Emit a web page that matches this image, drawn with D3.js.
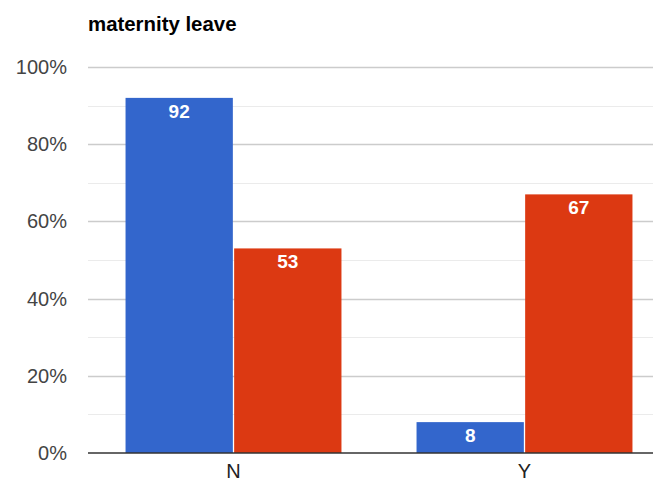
<!DOCTYPE html>
<html>
<head>
<meta charset="utf-8">
<script src="https://cdn.jsdelivr.net/npm/d3@7"></script>
<style>
  html, body { margin: 0; padding: 0; background: #fff; }
  svg { display: block; font-family: Arial, "Liberation Sans", sans-serif; }
</style>
</head>
<body>
<svg id="chart" width="653" height="482"></svg>
<script>
// Survey responses on maternity leave, percent per answer
const categories = ["N", "Y"];
const seriesNames = ["Group A", "Group B"];
const seriesA = [92, 8];
const seriesB = [53, 67];
const yTicks = [0, 20, 40, 60, 80, 100];
const yMinorTicks = [10, 30, 50, 70, 90];
const title = "maternity leave";

const colors = ["#3366cc", "#dc3912"];

const svg = d3.select("#chart");
const margin = { left: 88, top: 67, bottom: 453 };
const plotRight = 670;

const x = d3.scaleBand().domain(categories).range([margin.left, plotRight]).paddingInner(0.258).paddingOuter(0.129);
const xInner = d3.scaleBand().domain(seriesNames).range([0, x.bandwidth()]).paddingInner(0.012);
const y = d3.scaleLinear().domain([0, 100]).range([margin.bottom, margin.top]);

// minor gridlines
svg.append("g").selectAll("line").data(yMinorTicks).join("line")
  .attr("x1", margin.left).attr("x2", plotRight)
  .attr("y1", d => Math.round(y(d)) + 0.5).attr("y2", d => Math.round(y(d)) + 0.5)
  .attr("stroke", "#ebebeb").attr("stroke-width", 1);

// major gridlines
svg.append("g").selectAll("line").data(yTicks.filter(d => d > 0)).join("line")
  .attr("x1", margin.left).attr("x2", plotRight)
  .attr("y1", d => Math.round(y(d)) + 0.5).attr("y2", d => Math.round(y(d)) + 0.5)
  .attr("stroke", "#cccccc").attr("stroke-width", 1.5);

// y-axis labels
const yAxis = d3.axisLeft(y).tickValues(yTicks).tickFormat(d => d + "%").tickSize(0).tickPadding(0);
const yg = svg.append("g").attr("transform", `translate(67,0)`).call(yAxis);
yg.select(".domain").remove();
yg.selectAll("text").attr("fill", "#444").style("font-size", "20px")
  .attr("font-family", "Arial, 'Liberation Sans', sans-serif");

// bars
const rows = categories.map((c, i) => ({ cat: c, vals: [seriesA[i], seriesB[i]] }));
const groups = svg.append("g").selectAll("g").data(rows).join("g")
  .attr("transform", d => `translate(${x(d.cat)},0)`);

groups.selectAll("rect").data(d => d.vals.map((v, j) => ({ v, s: seriesNames[j], j }))).join("rect")
  .attr("x", d => xInner(d.s))
  .attr("y", d => y(d.v))
  .attr("width", xInner.bandwidth())
  .attr("height", d => y(0) - y(d.v))
  .attr("fill", d => colors[d.j]);

groups.selectAll("text").data(d => d.vals.map((v, j) => ({ v, s: seriesNames[j], j }))).join("text")
  .attr("x", d => xInner(d.s) + xInner.bandwidth() / 2)
  .attr("y", d => y(d.v) + 20)
  .attr("text-anchor", "middle")
  .attr("fill", "#fff")
  .style("font-size", "19px")
  .style("font-weight", "bold")
  .text(d => d.v);

// baseline
svg.append("line")
  .attr("x1", margin.left).attr("x2", plotRight)
  .attr("y1", y(0)).attr("y2", y(0))
  .attr("stroke", "#333").attr("stroke-width", 1.5);

// x-axis labels
const xAxis = d3.axisBottom(x).tickSize(0).tickPadding(0);
const xg = svg.append("g").attr("transform", `translate(0,${y(0) + 11})`).call(xAxis);
xg.select(".domain").remove();
xg.selectAll("text").attr("fill", "#222").style("font-size", "20px")
  .attr("font-family", "Arial, 'Liberation Sans', sans-serif");

// title
svg.append("text")
  .attr("x", 88).attr("y", 31)
  .attr("fill", "#000")
  .style("font-size", "20.4px")
  .style("font-weight", "bold")
  .text(title);
</script>
</body>
</html>
